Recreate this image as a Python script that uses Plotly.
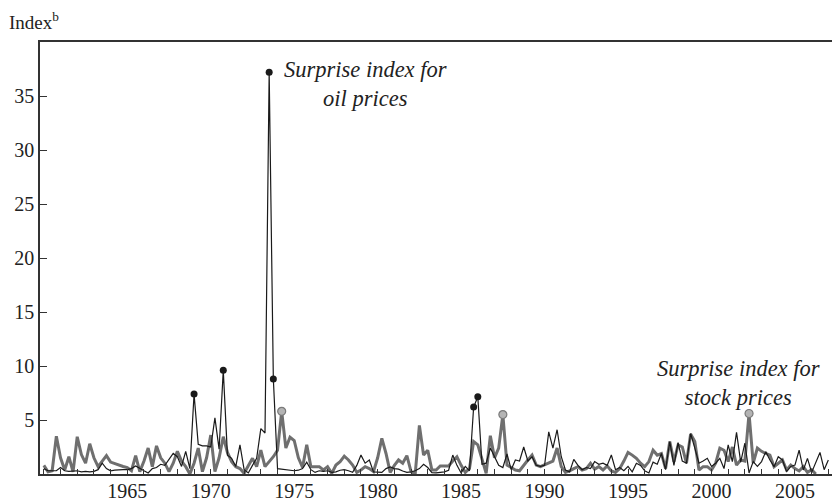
import numpy as np
import plotly.graph_objects as go

START_YEAR = 1960  # first quarter = 1960Q1, quarterly observations

# Surprise index for oil prices (quarterly, 1960Q1 - 2007Q1)
oil_index = [
    0.5, 0.3, 0.3, 0.3,   0.6, 0.3, 0.25, 0.3,   0.3, 0.2, 0.25, 0.2,   0.25, 0.4, 1.0, 0.5,
    0.3, 0.35, 0.4, 0.4,  0.4, 0.5, 0.75, 0.5,   0.3, 0.1, 0.5, 0.6,    0.9, 0.8, 1.3, 1.9,
    1.6, 0.7, 2.1, 0.5,   7.4, 2.75, 2.6, 2.6,   2.5, 5.2, 2.3, 9.6,    1.75, 1.45, 0.7, 2.7,
    0.4, 0.1, 0.8, 1.45,  4.2, 3.8, 37.2, 8.8,   0.5, 0.45, 0.35, 0.3,  0.3, 0.35, 0.5, 1.1,
    0.4, 0.15, 0.3, 0.25, 0.3, 0.15, 0.2, 0.35,  0.4, 0.3, 0.15, 0.8,   1.75, 1.0, 1.3, 0.2,
    0.2, 0.15, 0.5, 0.65, 0.5, 0.45, 0.28, 0.15, 0.2, 0.3, 0.5, 0.9,    0.6, 0.12, 0.1, 0.15,
    0.2, 0.35, 1.75, 0.8, 0.1, 0.7, 0.3, 6.2,    7.16, 0.9, 1.0, 2.4,   1.6, 0.8, 0.6, 1.85,
    0.4, 1.3, 1.2, 2.5,   1.2, 1.6, 0.8, 0.7,    0.8, 3.9, 2.4, 4.1,    1.6, 0.37, 0.2, 1.35,
    0.8, 0.4, 0.6, 0.5,   1.15, 0.9, 1.0, 0.8,   1.76, 0.4, 0.6, 0.3,   0.7, 0.2, 1.0, 0.8,
    0.3, 0.1, 1.1, 0.9,   1.9, 0.4, 3.0, 0.8,    2.9, 1.2, 1.0, 3.75,   2.4, 1.0, 1.2, 1.45,
    0.7, 1.0, 1.45, 0.5,  2.7, 1.15, 3.85, 1.1,  2.85, 0.1, 1.15, 0.7,  1.15, 2.07, 1.3, 0.68,
    1.6, 1.3, 0.22, 0.7,  0.83, 2.2, 0.37, 1.45, 0.15, 1.15, 2.0, 0.4,  1.3,
]

# Surprise index for stock prices (quarterly, 1960Q1 - 2006Q2)
stock_index = [
    0.8, 0.2, 0.3, 3.5,   1.5, 0.37, 1.6, 0.2,   3.45, 1.8, 1.0, 2.8,   1.5, 0.68, 1.2, 1.7,
    1.1, 0.95, 0.8, 0.7,  0.6, 0.3, 1.7, 0.22,   1.2, 2.4, 0.68, 2.6,   1.5, 1.0, 0.22, 1.0,
    2.1, 1.2, 0.68, 0.0,  1.0, 2.4, 0.22, 1.5,   3.6, 0.22, 1.5, 3.45,  2.0, 1.15, 0.68, 0.5,
    0.06, 0.8, 1.45, 0.68, 2.2, 0.68, 1.15, 1.6, 2.2, 5.8, 2.4, 3.4,    3.1, 1.5, 0.6, 2.7,
    0.68, 0.7, 0.68, 0.37, 0.68, 0.06, 0.83, 1.15, 1.65, 1.3, 0.83, 0.15, 0.37, 0.68, 0.5, 0.22,
    1.5, 3.3, 1.9, 0.15,  0.8, 1.3, 1.0, 1.7,    0.22, 0.0, 4.5, 1.75,  2.2, 0.37, 0.37, 0.75,
    0.75, 0.75, 1.2, 1.6, 0.8, 0.15, 0.5, 3.0,   2.7, 1.3, 0.06, 3.55,  1.5, 2.4, 5.5, 0.83,
    0.6, 0.37, 0.3, 0.83, 1.3, 1.75, 0.83, 0.68, 0.83, 1.0, 1.2, 2.4,   0.68, 0.15, 0.28, 0.5,
    0.68, 0.37, 0.5, 1.0, 0.45, 0.68, 0.37, 0.75, 0.28, 0.15, 0.5, 1.2, 2.0, 1.75, 1.45, 1.0,
    0.68, 1.15, 2.2, 1.75, 1.9, 0.5, 3.0, 1.15,  2.7, 2.5, 1.0, 3.7,    3.0, 0.37, 0.68, 0.68,
    0.37, 1.0, 2.4, 2.2,  1.15, 2.5, 0.83, 1.3,  1.2, 5.6, 1.0, 2.4,    2.1, 1.9, 1.75, 0.68,
    1.0, 1.3, 0.37, 0.83, 0.5, 0.28, 0.68, 0.15, 0.4, 0.0,
]

# Highlighted observations (quarter index from 1960Q1)
oil_marked = [36, 43, 54, 55, 103, 104]
stock_marked = [57, 110, 169]

label_years = [1965, 1970, 1975, 1980, 1985, 1990, 1995, 2000, 2005]
y_ticks = [5, 10, 15, 20, 25, 30, 35]

oil_x = START_YEAR + np.arange(len(oil_index)) / 4.0
stock_x = START_YEAR + np.arange(len(stock_index)) / 4.0

FONT = "Liberation Serif"
fig = go.Figure()

fig.add_trace(go.Scatter(x=stock_x, y=stock_index, mode="lines",
                         line=dict(color="#6f6f6f", width=3), hoverinfo="skip"))
fig.add_trace(go.Scatter(x=oil_x, y=oil_index, mode="lines",
                         line=dict(color="#1a1a1a", width=1.2), hoverinfo="skip"))
fig.add_trace(go.Scatter(x=[stock_x[i] for i in stock_marked],
                         y=[stock_index[i] for i in stock_marked], mode="markers",
                         marker=dict(color="#b4b4b4", size=8, line=dict(color="#7a7a7a", width=1.2)),
                         hoverinfo="skip"))
fig.add_trace(go.Scatter(x=[oil_x[i] for i in oil_marked],
                         y=[oil_index[i] for i in oil_marked], mode="markers",
                         marker=dict(color="#1a1a1a", size=7), hoverinfo="skip"))

fig.update_layout(
    width=832, height=501,
    margin=dict(l=40, r=0, t=42, b=27),
    paper_bgcolor="white", plot_bgcolor="white",
    showlegend=False,
    font=dict(family=FONT, size=20, color="#222"),
    xaxis=dict(range=[1959.77, 2007.22], tickmode="array", tickvals=label_years,
               ticktext=[str(y) for y in label_years], tickangle=0, automargin=False,
               ticks="inside", ticklen=5, tickwidth=1, tickcolor="#333",
               minor=dict(tick0=1960, dtick=1, ticks="inside", ticklen=5, tickwidth=1,
                          tickcolor="#333", showgrid=False),
               showline=True, linecolor="#333", linewidth=1.5, mirror=True,
               showgrid=False, zeroline=False, ticklabelstandoff=-2,
               tickfont=dict(family=FONT, size=20, color="#222")),
    yaxis=dict(range=[0, 40], tickmode="array", tickvals=y_ticks, automargin=False,
               ticks="inside", ticklen=7, tickwidth=1, tickcolor="#333",
               showline=True, linecolor="#333", linewidth=1.5,
               showgrid=False, zeroline=False, tickfont=dict(family=FONT, size=20, color="#222")),
    annotations=[
        dict(text="Index<sup>b</sup>", xref="paper", yref="paper", x=-0.0417, y=1.0486,
             xanchor="left", yanchor="middle", showarrow=False,
             font=dict(family=FONT, size=19, color="#222")),
        dict(text="<i>Surprise index for<br>oil prices</i>", xref="x", yref="y",
             x=1974.27, y=36.1, xanchor="left", yanchor="middle",
             showarrow=False, align="center", font=dict(family=FONT, size=22.5, color="#222")),
        dict(text="<i>Surprise index for<br>stock prices</i>", xref="x", yref="y",
             x=2001.59, y=8.43, xanchor="center", yanchor="middle",
             showarrow=False, align="center", font=dict(family=FONT, size=22.5, color="#222")),
    ],
)

fig.write_html("out.html", config={"displayModeBar": False},
               post_script="document.body.style.margin='0';document.body.style.overflow='hidden';")
